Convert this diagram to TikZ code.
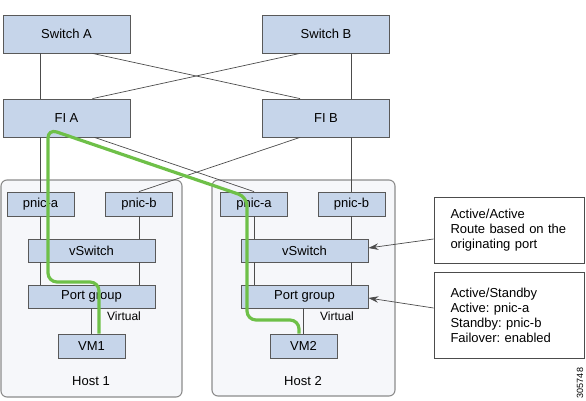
\documentclass[tikz,border=0pt]{standalone}
\usepackage{fontspec}
\setmainfont{Liberation Sans}
\usetikzlibrary{positioning,calc,arrows.meta}
\frenchspacing

\begin{document}
\begin{tikzpicture}[x=1pt,y=-1pt]  %1 unit = 1 px of the sketch, y runs downwards
    \useasboundingbox (0,0) rectangle (586,401);
    \definecolor{box-bl}{RGB}{198,213,234};   %light blue fill
    \definecolor{host-bg}{RGB}{246,247,250};  %faint host background
    \definecolor{path-gr}{RGB}{110,192,72};   %green traffic path
    \tikzstyle{dev} = [draw=black!65,fill=box-bl,line width=0.8pt,inner sep=0pt,font=\fontsize{13}{15}\selectfont]
    \tikzstyle{wide} = [dev,minimum width=127pt,minimum height=38pt]
    \tikzstyle{vsw} = [dev,minimum width=127pt,minimum height=23pt]
    \tikzstyle{nic} = [dev,minimum width=67pt,minimum height=24pt]
    \tikzstyle{host} = [draw=black!45,fill=host-bg,rounded corners=6pt,line width=1.1pt]
    \tikzstyle{wire} = [black!70,line width=0.7pt]
    \tikzstyle{note} = [draw=black!70,line width=0.8pt,minimum width=150pt,text width=117pt,align=left,font=\fontsize{13}{15}\selectfont]
    \tikzstyle{ann} = [inner sep=1pt,font=\fontsize{13}{15}\selectfont]

    %host frames
    \node[host,minimum width=181pt,minimum height=217pt] (host1) at (91.5,288.5) {};
    \node[host,minimum width=183pt,minimum height=216pt] (host2) at (303.5,288) {};
    \node[ann] (h1lbl) at (91,381) {Host 1};
    \node[ann] (h2lbl) at (303,381) {Host 2};

    %upstream switches
    \node[wide] (swa) at (66.5,34) {Switch A};
    \node[wide] (swb) at (326,34) {Switch B};
    \node[wide] (fia) at (66.5,118) {FI A};
    \node[wide] (fib) at (326,118) {FI B};

    %host 1
    \node[nic] (pa1) at (40.5,204) {pnic-a};
    \node[nic] (pb1) at (139,204) {pnic-b};
    \node[vsw] (vs1) at (91.5,250.5) {vSwitch};
    \node[vsw] (pg1) at (91.5,296.5) {Port group};
    \node[nic] (vm1) at (91.5,346) {VM1};
    \node[ann,font=\fontsize{12}{14}\selectfont] (virt1) at (124,316) {Virtual};

    %host 2
    \node[nic] (pa2) at (254,204) {pnic-a};
    \node[nic] (pb2) at (351.5,204) {pnic-b};
    \node[vsw] (vs2) at (304.5,250.5) {vSwitch};
    \node[vsw] (pg2) at (304.5,296.5) {Port group};
    \node[nic] (vm2) at (303.5,346) {VM2};
    \node[ann,font=\fontsize{12}{14}\selectfont] (virt2) at (337,316) {Virtual};

    %straight links
    \draw[wire] (swa.south -| pa1) -- (fia.north -| pa1);
    \draw[wire] (swb.south -| pb2) -- (fib.north -| pb2);
    \draw[wire] (fia.south -| pa1) -- (pa1.north);
    \draw[wire] (fib.south -| pb2) -- (pb2.north);
    %crossed links
    \draw[wire] ($(swa.south)+(26,0)$) -- ($(fib.north)+(-26,0)$);
    \draw[wire] ($(swb.south)+(-26,0)$) -- ($(fia.north)+(26,0)$);
    \draw[wire] ($(fia.south)+(28,0)$) -- (pa2.north);
    \draw[wire] ($(fib.south)+(-26,0)$) -- (pb1.north);

    %inside the hosts
    \draw[wire] (pa1.south) -- (vs1.north -| pa1);
    \draw[wire] (pb1.south) -- (vs1.north -| pb1);
    \draw[wire] (vs1.south -| pa1) -- (pg1.north -| pa1);
    \draw[wire] (vs1.south -| pb1) -- (pg1.north -| pb1);
    \draw[wire] (pg1.south) -- (vm1.north);
    \draw[wire] (pa2.south) -- (vs2.north -| pa2);
    \draw[wire] (pb2.south) -- (vs2.north -| pb2);
    \draw[wire] (vs2.south -| pa2) -- (pg2.north -| pa2);
    \draw[wire] (vs2.south -| pb2) -- (pg2.north -| pb2);
    \draw[wire] (pg2.south -| vm2) -- (vm2.north);

    %green path VM1 -> FI A -> VM2
    \draw[path-gr,line width=3.2pt,rounded corners=9pt] (vm1.north -| 99,0) -- (99,282) -- (48,282) -- (48,129)
        -- (247,197) -- (247,320) -- (299,320) -- (vm2.north -| 299,0);

    %teaming notes
    \node[note,minimum height=66pt] (actact) at (509,230) {Active/Active\\Route based on the\\originating port};
    \node[note,minimum height=86pt] (actsby) at (509,315) {Active/Standby\\Active: pnic-a\\Standby: pnic-b\\Failover: enabled};
    \draw[wire,-{Stealth[length=10pt,width=6.5pt]}] ($(actact.west)+(0,9)$) -- ($(vs2.east)+(0,-2.5)$);
    \draw[wire,-{Stealth[length=10pt,width=6.5pt]}] ($(actsby.west)+(0,-7)$) -- ($(pg2.east)+(0,1.5)$);

    \node[rotate=90,inner sep=0pt,font=\fontsize{9}{10}\selectfont] (figid) at (580,383) {305748};
\end{tikzpicture}
\end{document}
